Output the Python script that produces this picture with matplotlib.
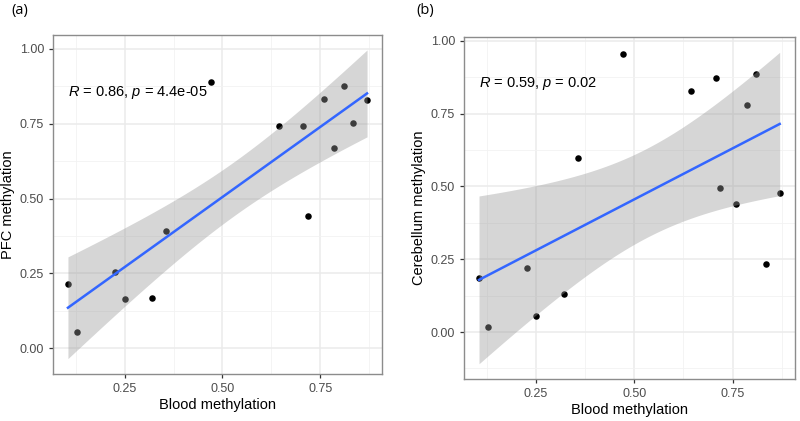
"""Blood vs brain-region methylation scatter with linear fit, two panels."""

import numpy as np
import matplotlib
matplotlib.use("Agg")
import matplotlib.pyplot as plt
from matplotlib.ticker import MultipleLocator

blood = [0.105, 0.128, 0.226, 0.250, 0.320, 0.356, 0.471, 0.644,
         0.707, 0.718, 0.759, 0.786, 0.811, 0.835, 0.870]
pfc = [0.213, 0.055, 0.255, 0.163, 0.169, 0.392, 0.891, 0.744,
       0.744, 0.443, 0.833, 0.669, 0.877, 0.752, 0.828]
cerebellum = [0.186, 0.016, 0.221, 0.054, 0.129, 0.598, 0.955, 0.829,
              0.871, 0.496, 0.438, 0.780, 0.887, 0.235, 0.479]
panel_tags = ["(a)", "(b)"]
y_titles = ["PFC methylation", "Cerebellum methylation"]
stat_labels = [("0.86", "4.4e-05"), ("0.59", "0.02")]
label_y = [0.853, 0.853]

T_975_DF13 = 2.1604  # t quantile for 95% band, n = 15


def lm_band(x, y, n_grid=80):
    x = np.asarray(x); y = np.asarray(y)
    n = len(x)
    b, a = np.polyfit(x, y, 1)
    resid = y - (a + b * x)
    s = np.sqrt(np.sum(resid ** 2) / (n - 2))
    sxx = np.sum((x - x.mean()) ** 2)
    xs = np.linspace(x.min(), x.max(), n_grid)
    fit = a + b * xs
    se = s * np.sqrt(1 / n + (xs - x.mean()) ** 2 / sxx)
    return xs, fit, fit - T_975_DF13 * se, fit + T_975_DF13 * se


plt.rcParams["font.family"] = ["Liberation Sans", "DejaVu Sans"]
plt.rcParams["mathtext.fontset"] = "custom"
plt.rcParams["mathtext.it"] = "Liberation Sans:italic"
plt.rcParams["mathtext.rm"] = "Liberation Sans"
fig = plt.figure(figsize=(8, 4.21), dpi=100)
boxes = [[0.06625, 0.1116, 0.41125, 0.8064], [0.58, 0.099, 0.4134, 0.8138]]
tag_x = [0.014, 0.521]

for i, yvals in enumerate([pfc, cerebellum]):
    ax = fig.add_axes(boxes[i])
    xs, fit, lo, hi = lm_band(blood, yvals)
    ax.scatter(blood, yvals, s=22, color="black", zorder=2, linewidths=0)
    ax.fill_between(xs, lo, hi, color="#999999", alpha=0.4, lw=0, zorder=3)
    ax.plot(xs, fit, color="#3366FF", lw=1.8, zorder=4)

    xmin, xmax = min(blood), max(blood)
    ymin = min(min(yvals), lo.min()); ymax = max(max(yvals), hi.max())
    ax.set_xlim(xmin - 0.05 * (xmax - xmin), xmax + 0.05 * (xmax - xmin))
    ax.set_ylim(ymin - 0.05 * (ymax - ymin), ymax + 0.05 * (ymax - ymin))

    ax.xaxis.set_major_locator(MultipleLocator(0.25))
    ax.yaxis.set_major_locator(MultipleLocator(0.25))
    ax.xaxis.set_minor_locator(MultipleLocator(0.125))
    ax.yaxis.set_minor_locator(MultipleLocator(0.125))
    ax.xaxis.set_major_formatter(lambda v, p: f"{v:.2f}")
    ax.yaxis.set_major_formatter(lambda v, p: f"{v:.2f}")
    ax.grid(which="major", color="#ebebeb", lw=1.1, zorder=0)
    ax.grid(which="minor", color="#f2f2f2", lw=0.6, zorder=0)
    ax.set_axisbelow(True)
    ax.tick_params(which="major", length=3, width=0.9, color="#333333",
                   labelcolor="#4d4d4d", labelsize=9)
    ax.tick_params(which="minor", length=0)
    for sp in ax.spines.values():
        sp.set_color("#8c8c8c"); sp.set_linewidth(1.0)

    ax.set_xlabel("Blood methylation", fontsize=10.5, labelpad=2)
    ax.set_ylabel(y_titles[i], fontsize=10.5, labelpad=3)

    r, p = stat_labels[i]
    ax.text(xmin, label_y[i], rf"$R$ = {r}, $p$ = {p}", fontsize=10.5,
            va="center", ha="left", zorder=5)
    fig.text(tag_x[i], 0.975, panel_tags[i], fontsize=10.5, va="center",
             family=["Open Sans", "DejaVu Sans"])

fig.savefig("out.png", dpi=100)
